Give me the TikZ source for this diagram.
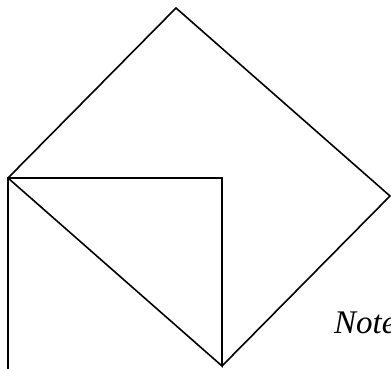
\documentclass[tikz,border=0pt]{standalone}
\usepackage{fontspec}
\setmainfont{Liberation Serif}
\usetikzlibrary{positioning}
\tikzset{
  sqedge/.style={line width=1.6pt,line join=miter},
  sqnote/.style={font=\fontsize{33}{38}\selectfont\itshape,inner sep=0pt,anchor=base west}
}
\begin{document}
\begin{tikzpicture}[x=1pt,y=-1pt]
  \clip (0,0) rectangle (391,369);
  % outer tilted square
  \coordinate (top) at (176,8);
  \coordinate (lft) at (8,178);
  \coordinate (rgt) at (390,196);
  \coordinate (bot) at (222,366);
  % inner corner and free end of the left side
  \coordinate (inn) at (222,178);
  \coordinate (low) at (8,372);
  \draw[sqedge] (lft) -- (top) -- (rgt) -- (bot);
  \draw[sqedge] (low) -- (lft) -- (inn) -- (bot) -- (lft);
  \node[sqnote] (note) at (334,333) {Note};
\end{tikzpicture}
\end{document}
